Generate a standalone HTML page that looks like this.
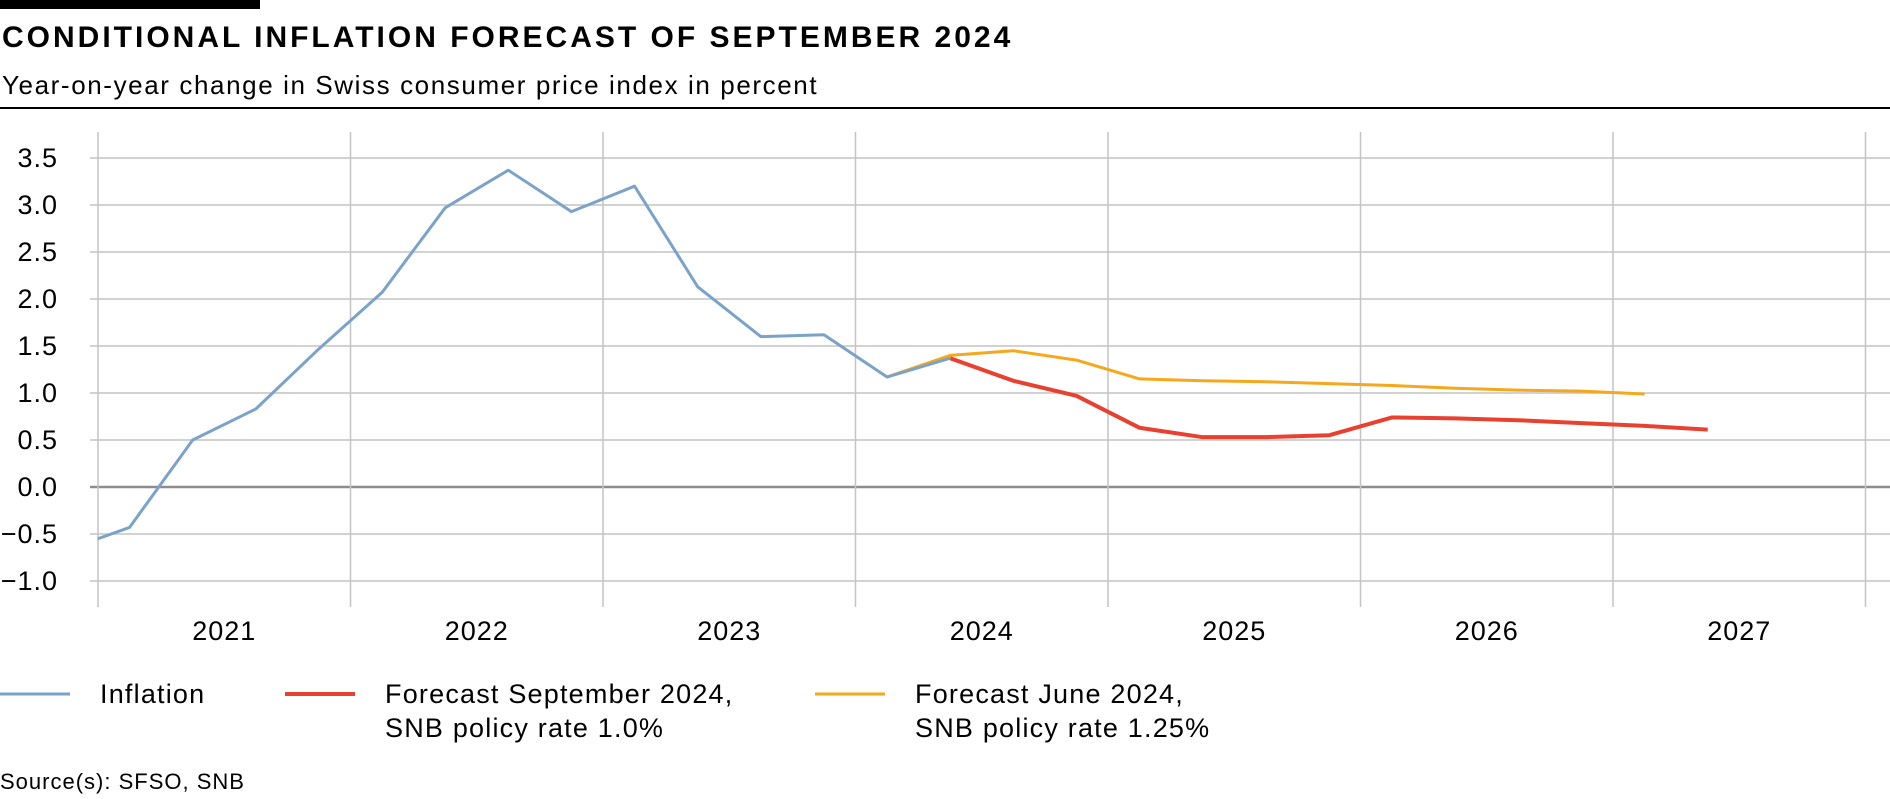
<!DOCTYPE html>
<html><head><meta charset="utf-8"><style>
body{margin:0;background:#fff;width:1890px;height:794px;overflow:hidden;font-family:"Liberation Sans",Arial,sans-serif;}
svg text{font-family:"Liberation Sans",Arial,sans-serif;}
</style></head><body>
<svg width="1890" height="794">
<rect x="0" y="0" width="260" height="9" fill="#000"/>
<text x="2" y="47" font-size="30" font-weight="bold" letter-spacing="3" fill="#000">CONDITIONAL INFLATION FORECAST OF SEPTEMBER 2024</text>
<text x="2" y="94" font-size="26" letter-spacing="1.6" fill="#000">Year-on-year change in Swiss consumer price index in percent</text>
<line x1="0" y1="108" x2="1890" y2="108" stroke="#000" stroke-width="2"/>
<g id="grid"></g><g id="series"></g>
<g font-size="27" letter-spacing="1.2">
<line x1="0" y1="694" x2="70" y2="694" stroke="#7BA3C9" stroke-width="3"/>
<text x="100" y="703">Inflation</text>
<line x1="285" y1="694" x2="355" y2="694" stroke="#E8412F" stroke-width="4"/>
<text x="385" y="703">Forecast September 2024,</text>
<text x="385" y="737">SNB policy rate 1.0%</text>
<line x1="815" y1="694" x2="885" y2="694" stroke="#F5A81C" stroke-width="3"/>
<text x="915" y="703">Forecast June 2024,</text>
<text x="915" y="737">SNB policy rate 1.25%</text>
</g>
<text x="0" y="789" font-size="22" letter-spacing="1">Source(s): SFSO, SNB</text>
</svg>
<script>
const years=["2021","2022","2023","2024","2025","2026","2027"];
const yTicks=[3.5,3.0,2.5,2.0,1.5,1.0,0.5,0.0,-0.5,-1.0];
const inflation=[-0.67,-0.43,0.5,0.83,1.47,2.07,2.97,3.37,2.93,3.2,2.13,1.6,1.62,1.17,1.37];
const inflationStart=-1;
const forecastSep=[1.37,1.13,0.97,0.63,0.53,0.53,0.55,0.74,0.73,0.71,0.68,0.65,0.61];
const forecastSepStart=13;
const forecastJun=[1.17,1.4,1.45,1.35,1.15,1.13,1.12,1.1,1.08,1.05,1.03,1.02,0.99];
const forecastJunStart=12;
const NS="http://www.w3.org/2000/svg";
const X0=98,YW=252.5,Y0=487,YU=94;
function xq(q){return X0+(q+0.5)*YW/4;}
function y(v){return Y0-v*YU;}
const grid=document.getElementById('grid'),ser=document.getElementById('series');
function mk(t,a,p){const e=document.createElementNS(NS,t);for(const k in a)e.setAttribute(k,a[k]);p.appendChild(e);return e;}
yTicks.forEach(v=>{
 const l=mk('line',{x1:X0-8,x2:1890,y1:y(v),y2:y(v),stroke:v===0?'#8c8c8c':'#c4c4c4','stroke-width':v===0?2.5:1.5},grid);
 
 
 const t=mk('text',{x:58,y:y(v)+9,'font-size':27,'letter-spacing':1,'text-anchor':'end'},grid);
 t.textContent=(v<0?'\u2212':'')+Math.abs(v).toFixed(1);
 
 
});
for(let i=0;i<=years.length;i++){
 const x=X0+i*YW;
 const l=mk('line',{x1:x,x2:x,y1:132,y2:607,stroke:'#c4c4c4','stroke-width':1.5},grid);
 
 
}
years.forEach((yr,i)=>{
 const t=mk('text',{x:X0+(i+0.5)*YW,y:640,'font-size':27,'letter-spacing':1,'text-anchor':'middle'},grid);
 t.textContent=yr;
 
 
});
mk('clipPath',{id:'cp'},ser).appendChild(document.createElementNS(NS,'rect'));
const cr=ser.querySelector('clipPath rect');cr.setAttribute('x',X0);cr.setAttribute('y',0);cr.setAttribute('width',2000);cr.setAttribute('height',800);
function line(vals,start,color,w,name){
 const pts=vals.map((v,i)=>xq(start+i)+','+y(v)).join(' ');
 const p=mk('polyline',{points:pts,fill:'none',stroke:color,'stroke-width':w,'stroke-linejoin':'round','clip-path':'url(#cp)'},ser);
 
 
}
line(forecastJun,forecastJunStart,'#F5A81C',3,'forecast-june-line');
line(forecastSep,forecastSepStart,'#E8412F',4,'forecast-september-line');
line(inflation,inflationStart,'#7BA3C9',3,'inflation-line');
</script>
</body></html>
